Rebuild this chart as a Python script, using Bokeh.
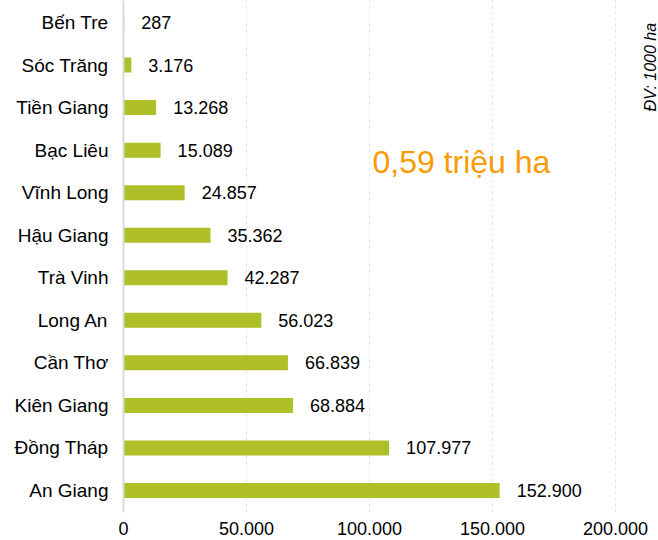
from bokeh.plotting import figure
from bokeh.models import Range1d, FixedTicker, Label, ColumnDataSource
from bokeh.core.properties import value
from bokeh.embed import file_html
from bokeh.resources import INLINE

# Data (bottom to top)
provinces = ["An Giang", "Đồng Tháp", "Kiên Giang", "Cần Thơ", "Long An", "Trà Vinh",
             "Hậu Giang", "Vĩnh Long", "Bạc Liêu", "Tiền Giang", "Sóc Trăng", "Bến Tre"]
areas = [152900, 107977, 68884, 66839, 56023, 42287, 35362, 24857, 15089, 13268, 3176, 287]
area_labels = ["152.900", "107.977", "68.884", "66.839", "56.023", "42.287",
               "35.362", "24.857", "15.089", "13.268", "3.176", "287"]
x_ticks = [0, 50000, 100000, 150000, 200000]
x_tick_labels = ["0", "50.000", "100.000", "150.000", "200.000"]
total_text = "0,59 triệu ha"
unit_text = "ĐV: 1000 ha"

FONT = "Liberation Sans"
idx = list(range(len(provinces)))
src = ColumnDataSource(dict(y=idx, v=areas, lab=area_labels))

p = figure(width=658, height=540, output_backend="svg", toolbar_location=None,
           x_range=Range1d(0, 217480), y_range=Range1d(-0.517, 11.517),
           min_border_left=123, min_border_right=0, min_border_top=0, min_border_bottom=28)
p.outline_line_color = None
p.background_fill_color = "white"
p.border_fill_color = "white"

p.hbar(y="y", right="v", left=0, height=0.353, source=src,
       fill_color="#afbf27", line_color=None)
p.text(x="v", y="y", text="lab", source=src, x_offset=17, text_align="left",
       text_baseline="middle", text_font=value(FONT), text_font_size="18px",
       text_color="#000000")

# Axes
p.yaxis.ticker = FixedTicker(ticks=idx)
p.yaxis.major_label_overrides = {i: n for i, n in zip(idx, provinces)}
p.yaxis.major_tick_out = 0
p.yaxis.major_tick_in = 0
p.yaxis.minor_tick_out = 0
p.yaxis.minor_tick_in = 0
p.yaxis.axis_line_color = "#d9d9d9"
p.yaxis.axis_line_width = 2
p.yaxis.major_label_standoff = 15
p.yaxis.major_label_text_font = FONT
p.yaxis.major_label_text_font_size = "19px"
p.yaxis.major_label_text_color = "#000000"

p.xaxis.ticker = FixedTicker(ticks=x_ticks)
p.xaxis.major_label_overrides = {t: l for t, l in zip(x_ticks, x_tick_labels)}
p.xaxis.axis_line_color = None
p.xaxis.major_tick_out = 0
p.xaxis.major_tick_in = 0
p.xaxis.minor_tick_out = 0
p.xaxis.minor_tick_in = 0
p.xaxis.major_label_standoff = 9
p.xaxis.major_label_text_font = FONT
p.xaxis.major_label_text_font_size = "18px"
p.xaxis.major_label_text_color = "#000000"

p.ygrid.grid_line_color = None
p.xgrid.grid_line_color = "#e3e3e3"
p.xgrid.grid_line_dash = "3 3"
p.xgrid.grid_line_width = 1

p.add_layout(Label(x=101200, y=7.71, text=total_text, text_font=FONT,
                   text_font_size="32px", text_color="#fa9a00",
                   text_align="left", text_baseline="middle"))
p.add_layout(Label(x=214200, y=9.95, text=unit_text, text_font=FONT,
                   text_font_size="16px", text_font_style="italic",
                   text_color="#000000", angle=1.5708,
                   text_align="center", text_baseline="middle"))

open("out.html", "w").write(file_html(p, INLINE))
